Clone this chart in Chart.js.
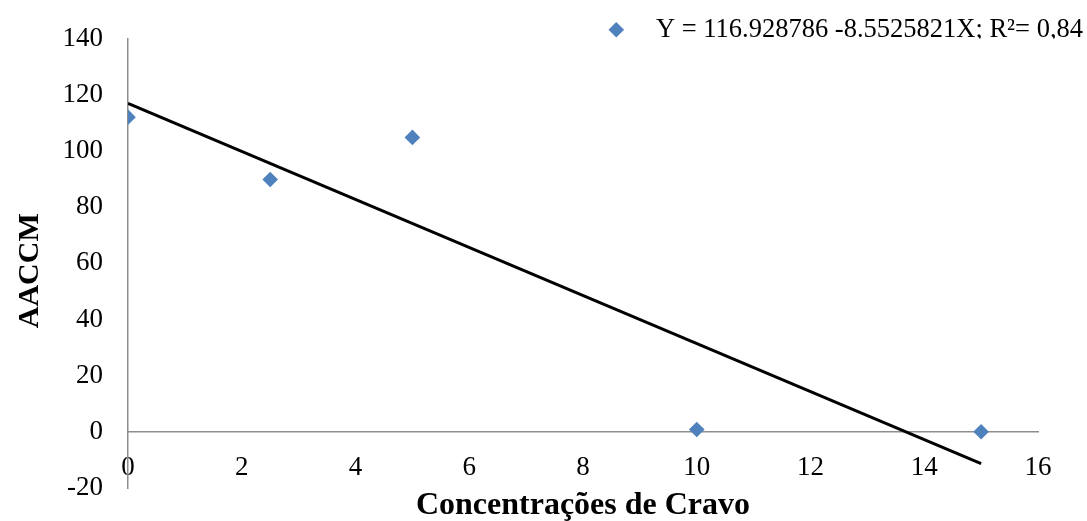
<!DOCTYPE html>
<html>
<head>
<meta charset="utf-8">
<script src="https://cdn.jsdelivr.net/npm/chart.js@4"></script>
<style>
  html, body { margin: 0; padding: 0; background: #fff; }
  #wrap { width: 1087px; height: 521px; }
</style>
</head>
<body>
<div id="wrap"><canvas id="chart"></canvas></div>
<script>
// data
const concentrations = [0, 2.5, 5, 10, 15];
const aaccm = [112, 89.8, 104.8, 0.8, 0];
const trendX = [0, 15];
const trendY = [116.93, -11.36];
const legendLabel = '  Y = 116.928786 -8.5525821X; R²= 0,84';

const xMin = 0, xMax = 16, xStep = 2;
const yMin = -20, yMax = 140, yStep = 20;

const serif = 'Liberation Serif';
const axisGrey = '#8e8e8e';

const points = concentrations.map((x, i) => ({ x: x, y: aaccm[i] }));
const trend = trendX.map((x, i) => ({ x: x, y: trendY[i] }));

new Chart(document.getElementById('chart').getContext('2d'), {
    type: 'scatter',
    data: {
        datasets: [{
            label: legendLabel,
            data: points,
            pointStyle: 'rectRot',
            pointRadius: 7.8,
            pointHoverRadius: 7.8,
            backgroundColor: '#4f81bd',
            borderColor: '#4f81bd',
            borderWidth: 0,
            order: 1
        }, {
            label: 'trend',
            data: trend,
            showLine: true,
            borderColor: '#000',
            borderWidth: 3,
            pointRadius: 0,
            fill: false,
            order: 2
        }]
    },
    options: {
        responsive: true,
        maintainAspectRatio: false,
        animation: false,
        layout: { padding: { top: 15.5, right: 3, bottom: 0, left: 0 } },
        plugins: {
            legend: {
                position: 'top',
                align: 'end',
                maxHeight: 23,
                labels: {
                    filter: item => item.datasetIndex === 0,
                    usePointStyle: true,
                    boxWidth: 27,
                    boxHeight: 11,
                    padding: 1,
                    color: '#000',
                    font: { family: serif, size: 26.5 }
                }
            },
            tooltip: { enabled: false }
        },
        scales: {
            x: {
                type: 'linear',
                position: { y: 0 },
                min: xMin,
                max: xMax,
                grid: { drawOnChartArea: false, drawTicks: false },
                border: { display: true, color: axisGrey, width: 1.5 },
                ticks: {
                    stepSize: xStep,
                    padding: 20,
                    color: '#000',
                    font: { family: serif, size: 27 }
                },
                afterFit: scale => { scale.height = 0; }
            },
            xTitle: {
                type: 'linear',
                position: 'bottom',
                grid: { drawOnChartArea: false, drawTicks: false },
                border: { display: false },
                ticks: { display: false },
                title: {
                    display: true,
                    text: 'Concentrações de Cravo',
                    color: '#000',
                    padding: { top: 0, bottom: -4 },
                    font: { family: serif, size: 32, weight: 'bold' }
                },
                afterFit: scale => { scale.height = 33; }
            },
            y: {
                type: 'linear',
                position: 'left',
                min: yMin,
                max: yMax,
                // invisible tick marks keep the labels off the axis
                grid: { drawOnChartArea: false, drawTicks: true, tickLength: 25, tickColor: 'rgba(0,0,0,0)' },
                border: { display: true, color: axisGrey, width: 1.5 },
                ticks: {
                    stepSize: yStep,
                    padding: 0,
                    color: '#000',
                    font: { family: serif, size: 27 }
                },
                title: {
                    display: true,
                    text: 'AACCM  ',
                    color: '#000',
                    padding: { top: 12, bottom: 0 },
                    font: { family: serif, size: 30, weight: 'bold' }
                },
                afterFit: scale => { scale.width = 128; }
            },
            yRight: {
                type: 'linear',
                position: 'right',
                grid: { drawOnChartArea: false, drawTicks: false },
                border: { display: false },
                ticks: { display: false },
                afterFit: scale => { scale.width = 46; }
            }
        }
    }
});
</script>
</body>
</html>
